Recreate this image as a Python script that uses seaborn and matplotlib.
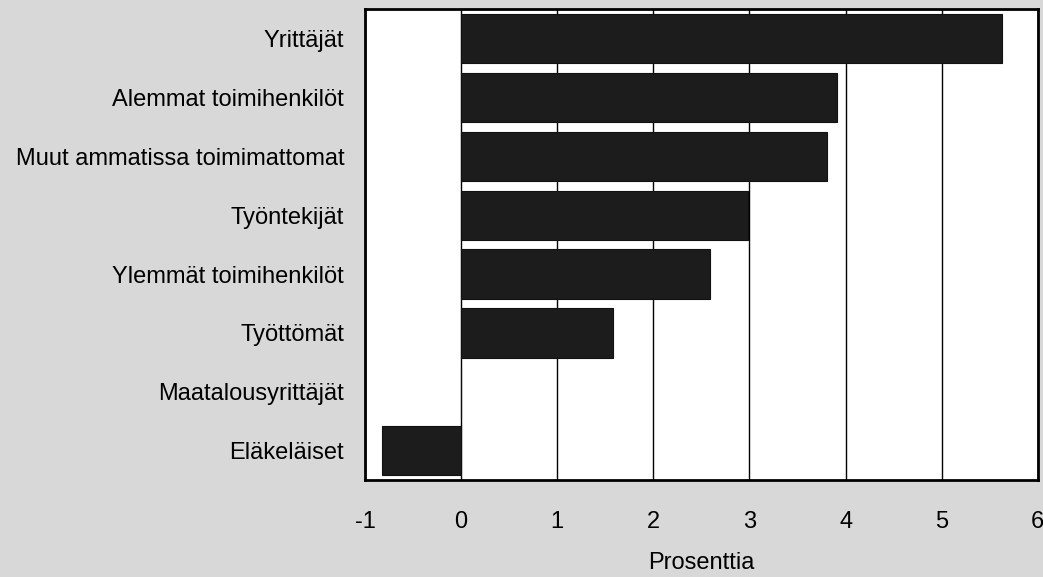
import matplotlib
matplotlib.use("Agg")
import matplotlib.pyplot as plt
import seaborn as sns
import pandas as pd

categories = ["Yrittäjät", "Alemmat toimihenkilöt", "Muut ammatissa toimimattomat",
              "Työntekijät", "Ylemmät toimihenkilöt", "Työttömät",
              "Maatalousyrittäjät", "Eläkeläiset"]
values = [5.63, 3.91, 3.81, 2.98, 2.59, 1.58, 0.0, -0.82]
xticks = [-1, 0, 1, 2, 3, 4, 5, 6]
xlabel = "Prosenttia"

sns.set_theme(style="white")
plt.rcParams['font.family'] = ['Liberation Sans', 'DejaVu Sans']
plt.rcParams['text.color'] = 'black'
plt.rcParams['xtick.color'] = 'black'
plt.rcParams['ytick.color'] = 'black'
plt.rcParams['axes.labelcolor'] = 'black'

df = pd.DataFrame({"cat": categories, "val": values})

fig = plt.figure(figsize=(10.43, 5.77), dpi=100, facecolor="#d8d8d8")
ax = fig.add_axes([0.35, 0.168, 0.645, 0.816])
ax.set_facecolor("white")

sns.barplot(data=df, x="val", y="cat", orient="h", color="#1c1c1c",
            saturation=1, width=0.84, ax=ax, edgecolor="#111111", linewidth=0.8)

ax.set_xlim(-1, 6)
ax.set_xticks(xticks)
ax.set_xticklabels([str(t) for t in xticks])
ax.set_axisbelow(True)
ax.grid(axis="x", color="black", linewidth=1.0)
ax.grid(axis="y", visible=False)
ax.tick_params(axis="both", length=0, labelsize=17, colors="black")
ax.tick_params(axis="x", pad=22)
ax.tick_params(axis="y", pad=15)
ax.set_ylabel("")
ax.set_xlabel(xlabel, fontsize=17, labelpad=14, color="black")
for s in ax.spines.values():
    s.set_visible(True)
    s.set_color("black")
    s.set_linewidth(2)

fig.savefig("out.png", dpi=100, facecolor=fig.get_facecolor())
